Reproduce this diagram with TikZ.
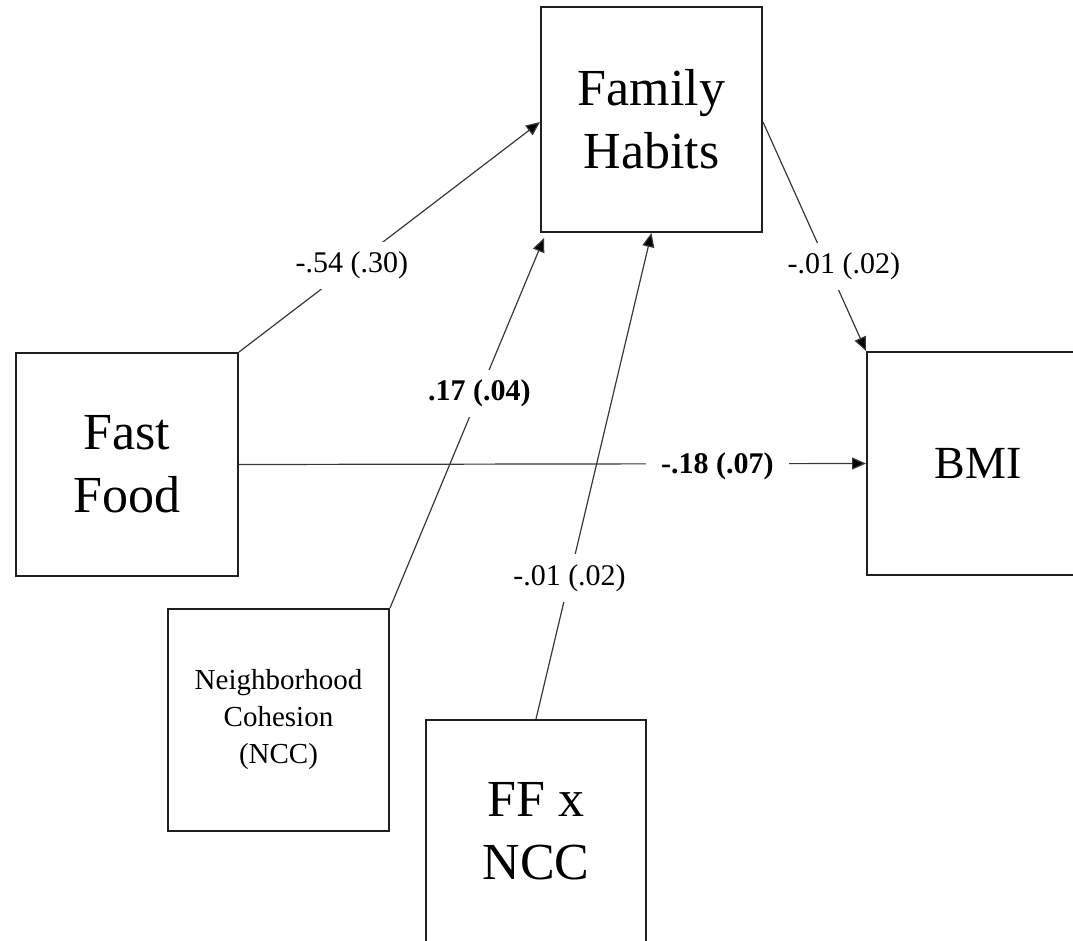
\documentclass[tikz,border=0pt]{standalone}
\usepackage{fontspec}
\setmainfont{Liberation Serif}
\usetikzlibrary{arrows.meta,calc}
\begin{document}
\begin{tikzpicture}[x=1pt,y=-1pt,
  box/.style={draw=black!88, line width=2pt, minimum width=221pt, minimum height=223pt,
    inner sep=0pt, align=center, font=\fontsize{52}{63}\selectfont},
  conn/.style={draw=black!78, line width=1.2pt},
  arr/.style={conn, -{Triangle[length=14pt,width=12pt,fill=black]}},
  lbl/.style={fill=white, inner xsep=15pt, inner ysep=10pt, font=\fontsize{30}{36}\selectfont},
  blbl/.style={lbl, font=\fontsize{30}{36}\selectfont\bfseries}]
\useasboundingbox (0,0) rectangle (1073,940);
% boxes
\node[box, minimum height=225pt] (fh) at (651.5,119.5) {Family\\Habits};
\node[box, minimum width=222pt] (ff) at (127,464.5) {Fast\\Food};
\node[box, minimum width=222pt, font=\fontsize{46}{54}\selectfont] (bmi) at (978,463.5) {BMI};
\node[box, minimum height=222pt, font=\fontsize{29}{37}\selectfont] (ncc) at (278.5,720) {Neighborhood\\Cohesion\\(NCC)};
\node[box, minimum width=220pt, minimum height=222pt] (ffx) at (536,831) {FF x\\NCC};
% connectors
\draw[arr] (ff.north east) -- node[lbl, pos=0.375] {-.54 (.30)} ([yshift=-2.5pt]fh.west);
\draw[arr] (ncc.north east) -- node[blbl, pos=0.58] {.17 (.04)} ([shift={(4pt,-5pt)}]fh.south west);
\draw[arr] (ffx.north) -- node[lbl, pos=0.29] {-.01 (.02)} (fh.south);
\draw[arr] ([yshift=-2.5pt]fh.east) -- node[lbl, pos=0.63, xshift=16pt] {-.01 (.02)} (bmi.north west);
\draw[arr] (ff.east) -- node[blbl, pos=0.763, yshift=-3pt] {-.18 (.07)} (bmi.west);
\end{tikzpicture}
\end{document}
